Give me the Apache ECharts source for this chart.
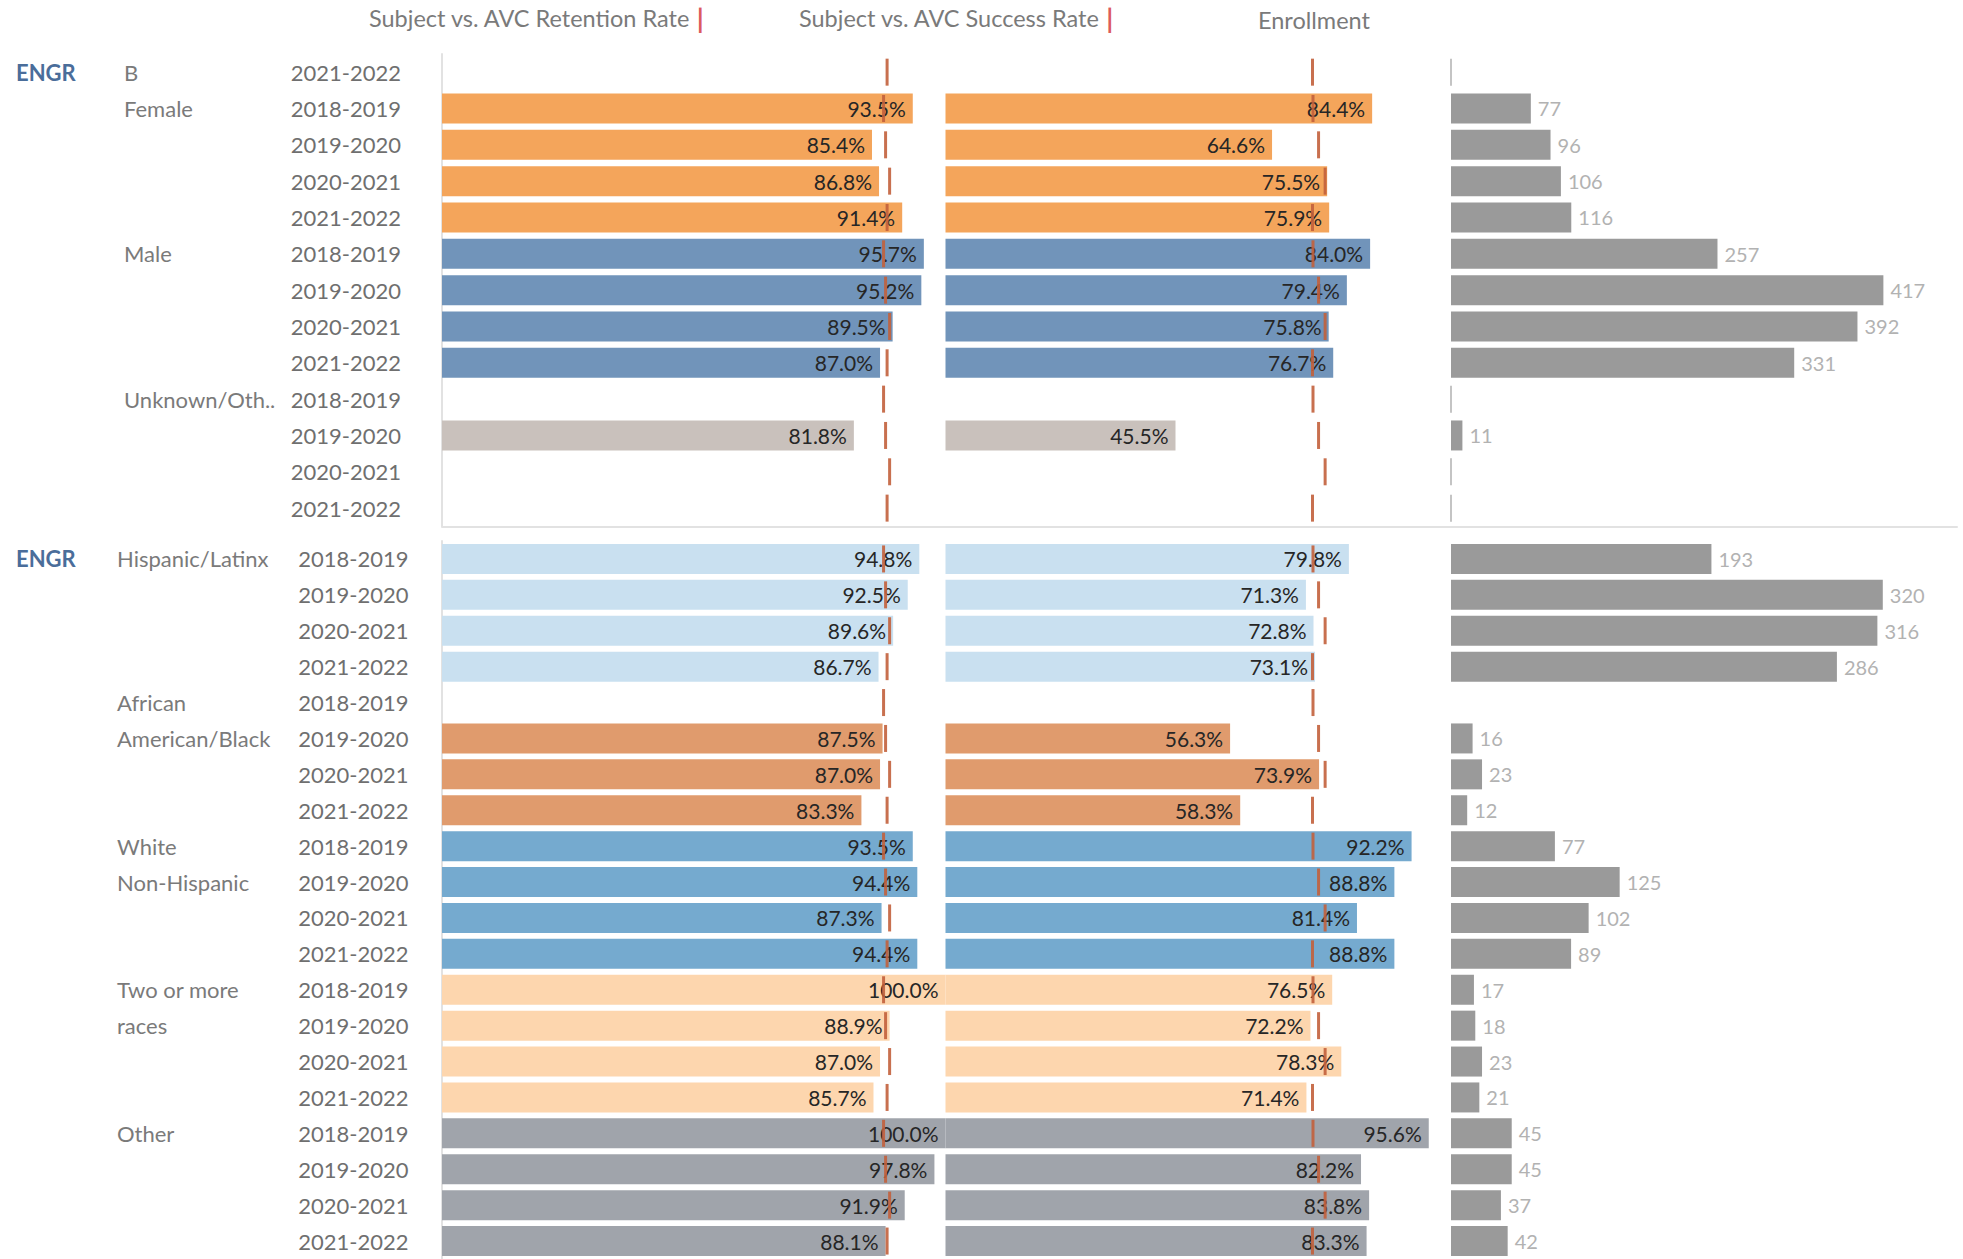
<!DOCTYPE html>
<html>
<head>
<meta charset="utf-8">
<title>ENGR retention, success and enrollment</title>
<script src="https://cdn.jsdelivr.net/npm/echarts@6/dist/echarts.min.js"></script>
<style>
  html, body { margin: 0; padding: 0; background: #fff; }
  #chart { width: 1963px; height: 1259px; }
</style>
</head>
<body>
<div id="chart"></div>
<script>
const years = ['2018-2019', '2019-2020', '2020-2021', '2021-2022'];
const subject = 'ENGR';
const headers = ['Subject vs. AVC Retention Rate', 'Subject vs. AVC Success Rate', 'Enrollment'];

// top block: gender
const topGroups = ['B', 'Female', 'Male', 'Unknown/Oth..'];
const topGroupYears = [['2021-2022'], years, years, years];
const topRetention = [null, 93.5, 85.4, 86.8, 91.4, 95.7, 95.2, 89.5, 87.0, null, 81.8, null, null];
const topSuccess = [null, 84.4, 64.6, 75.5, 75.9, 84.0, 79.4, 75.8, 76.7, null, 45.5, null, null];
const topEnrollment = [0, 77, 96, 106, 116, 257, 417, 392, 331, 0, 11, 0, 0];

// bottom block: ethnicity
const bottomGroups = ['Hispanic/Latinx', 'African\nAmerican/Black', 'White\nNon-Hispanic', 'Two or more\nraces', 'Other'];
const bottomGroupYears = [years, years, years, years, years];
const bottomRetention = [94.8, 92.5, 89.6, 86.7, null, 87.5, 87.0, 83.3, 93.5, 94.4, 87.3, 94.4, 100.0, 88.9, 87.0, 85.7, 100.0, 97.8, 91.9, 88.1];
const bottomSuccess = [79.8, 71.3, 72.8, 73.1, null, 56.3, 73.9, 58.3, 92.2, 88.8, 81.4, 88.8, 76.5, 72.2, 78.3, 71.4, 95.6, 82.2, 83.8, 83.3];
const bottomEnrollment = [193, 320, 316, 286, null, 16, 23, 12, 77, 125, 102, 89, 17, 18, 23, 21, 45, 45, 37, 42];

// AVC (whole college) values per year -> reference marks
const avcRetention = [87.7, 88.1, 88.9, 88.4];
const avcSuccess = [72.7, 73.8, 75.1, 72.6];

const groupColor = {
  'Female': '#f4a55b',
  'Male': '#7194ba',
  'Unknown/Oth..': '#c9c1bc',
  'Hispanic/Latinx': '#c9e0f0',
  'African\nAmerican/Black': '#e09b6d',
  'White\nNon-Hispanic': '#75aacf',
  'Two or more\nraces': '#fdd6ae',
  'Other': '#a0a4ab'
};

const FONT = 'Lato';
const GREY = '#6f6f6f';
const REF = '#c2603c';

function buildRows(groups, groupYears) {
  const rows = [];
  groups.forEach((g, gi) => {
    const lines = g.split('\n');
    groupYears[gi].forEach((y, yi) => rows.push({ group: g, year: y, label: lines[yi] || '' }));
  });
  return rows;
}

const panes = [
  { left: 442, width: 503.5 },
  { left: 945.5, width: 505.5 },
  { left: 1451, width: 506 }
];

const blocks = [
  { top: 54, rowH: 36.33, rows: buildRows(topGroups, topGroupYears), ret: topRetention, suc: topSuccess,
    enr: topEnrollment, enrMax: 488, yearMargin: 41, groupMargin: 318, baseLine: true },
  { top: 541, rowH: 36.2, rows: buildRows(bottomGroups, bottomGroupYears), ret: bottomRetention, suc: bottomSuccess,
    enr: bottomEnrollment, enrMax: 375, yearMargin: 33.5, groupMargin: 325, baseLine: false }
];

const grid = [], xAxis = [], yAxis = [], series = [];

blocks.forEach((b) => {
  const n = b.rows.length;
  const cats = b.rows.map((r, i) => i + '');
  panes.forEach((p, pi) => {
    const gi = grid.length;
    grid.push({ left: p.left, width: p.width, top: b.top, height: n * b.rowH });
    xAxis.push({
      type: 'value', gridIndex: gi, min: 0, max: pi === 2 ? b.enrMax : 100,
      axisLine: { show: b.baseLine, lineStyle: { color: '#e2e2e2', width: 2 } },
      axisTick: { show: false }, axisLabel: { show: false }, splitLine: { show: false }
    });
    const yi = yAxis.length;
    yAxis.push({
      type: 'category', gridIndex: gi, position: 'left', offset: 0, inverse: true, data: cats,
      axisLine: { show: pi === 0, lineStyle: { color: '#e2e2e2', width: 2 } },
      axisTick: { show: false },
      axisLabel: {
        show: pi === 0, margin: b.yearMargin, color: GREY, fontFamily: FONT, fontSize: 22,
        formatter: (v) => b.rows[+v].year
      }
    });
    if (pi === 0) {
      // group labels and subject label as extra category axes on the same grid
      yAxis.push({
        type: 'category', gridIndex: gi, position: 'left', offset: 0, inverse: true, data: cats,
        axisLine: { show: false }, axisTick: { show: false },
        axisLabel: { margin: b.groupMargin, align: 'left', color: '#7a7a7a', fontFamily: FONT, fontSize: 22,
          formatter: (v) => b.rows[+v].label }
      });
      yAxis.push({
        type: 'category', gridIndex: gi, position: 'left', offset: 0, inverse: true, data: cats,
        axisLine: { show: false }, axisTick: { show: false },
        axisLabel: { margin: 426, align: 'left', color: '#4a6d9a', fontFamily: FONT, fontSize: 22, fontWeight: 'bold',
          formatter: (v) => (+v === 0 ? subject : '') }
      });
    }

    if (pi < 2) {
      const vals = pi === 0 ? b.ret : b.suc;
      const avc = pi === 0 ? avcRetention : avcSuccess;
      series.push({
        type: 'bar', xAxisIndex: gi, yAxisIndex: yi, barWidth: 30, silent: true, z: 2,
        data: vals.map((v, i) => (v == null ? null : { value: v, itemStyle: { color: groupColor[b.rows[i].group] } })),
        label: {
          show: true, position: 'insideRight', distance: 7, color: '#262626', fontFamily: FONT, fontSize: 21,
          formatter: (d) => d.value.toFixed(1) + '%'
        }
      });
      series.push({
        type: 'scatter', xAxisIndex: gi, yAxisIndex: yi, symbol: 'rect', symbolSize: [3, 27], silent: true, z: 4,
        itemStyle: { color: REF, opacity: 0.9 },
        data: b.rows.map((r, i) => [avc[years.indexOf(r.year)], i])
      });
    } else {
      series.push({
        type: 'bar', xAxisIndex: gi, yAxisIndex: yi, barWidth: 30, silent: true,
        itemStyle: { color: '#9a9a9a' },
        data: b.enr.map((v) => (v > 0 ? v : null)),
        label: { show: true, position: 'right', distance: 7, color: '#b2b2b2', fontFamily: FONT, fontSize: 20 }
      });
      // empty rows show a thin zero tick
      series.push({
        type: 'scatter', xAxisIndex: gi, yAxisIndex: yi, symbol: 'rect', symbolSize: [2, 27], silent: true,
        itemStyle: { color: '#b5b5b5' },
        data: b.enr.map((v, i) => (v === 0 ? [0, i] : null)).filter((d) => d)
      });
    }
  });
});

const titleStyle = {
  color: '#7a7a7a', fontFamily: FONT, fontSize: 23.5, fontWeight: 'normal',
  rich: { bar: { color: '#dc5a5e', fontSize: 27, fontWeight: 'bold', fontFamily: FONT } }
};

const chart = echarts.init(document.getElementById('chart'), null, { renderer: 'svg' });
chart.setOption({
  animation: false,
  backgroundColor: '#fff',
  title: [
    { text: headers[0] + ' {bar||}', left: 369, top: 4.5, padding: 0, textStyle: titleStyle },
    { text: headers[1] + ' {bar||}', left: 799, top: 4.5, padding: 0, textStyle: titleStyle },
    { text: headers[2], left: 1258, top: 7.5, padding: 0, textStyle: titleStyle }
  ],
  grid, xAxis, yAxis, series
});
</script>
</body>
</html>
